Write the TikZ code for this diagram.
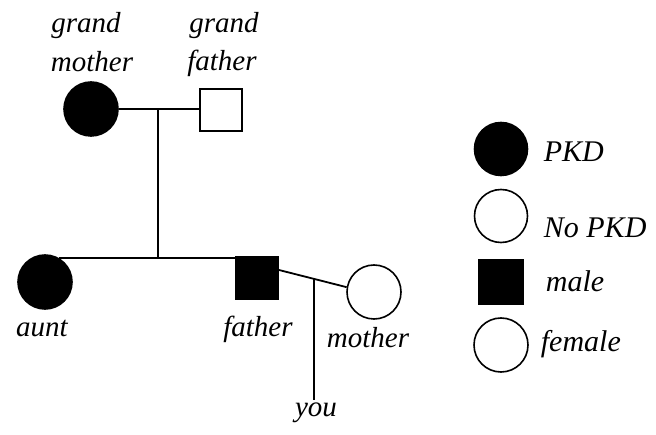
\documentclass[tikz,border=0pt]{standalone}
\usepackage{fontspec}
\setmainfont{Liberation Serif}
\usetikzlibrary{calc}
\begin{document}
\begin{tikzpicture}[x=1pt,y=-1pt,
  line width=1.8pt,
  fem/.style={circle,draw,line width=1.6pt,minimum size=54pt,inner sep=0pt},
  femfill/.style={fem,fill=black},
  mal/.style={rectangle,draw,line width=1.6pt,minimum size=42pt,inner sep=0pt},
  malfill/.style={mal,fill=black},
  lbl/.style={font=\fontsize{29}{34}\selectfont\itshape,inner sep=0pt,anchor=base},
  leg/.style={font=\fontsize{30}{34}\selectfont\itshape,inner sep=0pt,anchor=base west}]
\useasboundingbox (0,0) rectangle (656,435);
% people
\node[femfill] (gm) at (91,109) {};
\node[mal] (gf) at (221,110) {};
\node[femfill] (aunt) at (45,282) {};
\node[malfill,minimum size=43pt] (father) at (257,278) {};
\node[fem] (mother) at (374,292) {};
% connectors
\draw (gm.east) -- (gm.east -| gf.west);
\coordinate (gpm) at (158,109);
\coordinate (sib) at (158,258);
\draw (gpm) -- (sib);
\draw (aunt.60) -- (aunt.60 -| father.west);
\coordinate (fr) at (279,270);
\draw (fr) -- (mother.170);
\coordinate (pm) at ($(fr)!0.515!(mother.170)$);
\coordinate (child) at (314,400);
\draw (pm) -- (pm |- child);
% labels
\node[lbl] (l1) at (86,33) {grand};
\node[lbl] (l2) at (92,72) {mother};
\node[lbl] (l3) at (224,33) {grand};
\node[lbl] (l4) at (222,71) {father};
\node[lbl] (l5) at (42,337) {aunt};
\node[lbl] (l6) at (258,337) {father};
\node[lbl] (l7) at (368,348) {mother};
\node[lbl] (l8) at (316,417) {you};
% legend
\node[femfill,minimum size=53pt] (k1) at (501,149) {};
\node[fem,minimum size=53pt] (k2) at (501,216) {};
\node[malfill,minimum size=44pt] (k3) at (501,282) {};
\node[fem] (k4) at (501,345) {};
\node[leg] (t1) at (543,162) {PKD};
\node[leg] (t2) at (543,238) {No PKD};
\node[leg] (t3) at (545,292) {male};
\node[leg] (t4) at (540,352) {female};
\end{tikzpicture}
\end{document}
